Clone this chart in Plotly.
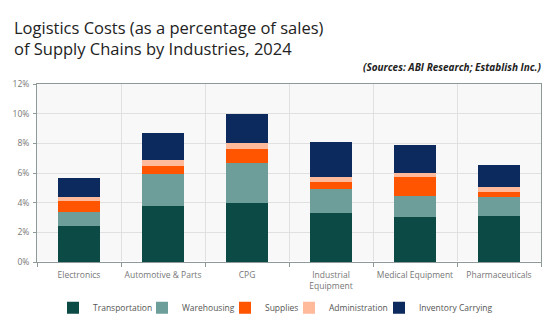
import plotly.graph_objects as go

categories = ["Electronics", "Automotive & Parts", "CPG", "Industrial<br>Equipment",
              "Medical Equipment", "Pharmaceuticals"]
series_names = ["Transportation", "Warehousing", "Supplies", "Administration", "Inventory Carrying"]
transportation = [2.4, 3.75, 3.95, 3.3, 3.05, 3.1]
warehousing = [1.0, 2.2, 2.7, 1.6, 1.4, 1.3]
supplies = [0.7, 0.5, 1.0, 0.5, 1.25, 0.35]
administration = [0.25, 0.4, 0.4, 0.3, 0.3, 0.3]
inventory_carrying = [1.3, 1.85, 1.9, 2.4, 1.9, 1.5]

values = [transportation, warehousing, supplies, administration, inventory_carrying]
colors = ["#0c4a46", "#6e9e9a", "#ff5500", "#ffb99b", "#0d2a5e"]

# legend text start positions (px) for each series' own legend
L, W, T, H = 37, 504, 84, 183
legend_text_px = [93, 182, 265, 329, 419]
legend_y = (267 - 314) / H

font = "Open Sans"
fig = go.Figure()
layout_legends = {}
for i, (name, vals, col) in enumerate(zip(series_names, values, colors)):
    lg = "legend" if i == 0 else f"legend{i+1}"
    fig.add_trace(go.Bar(x=categories, y=vals, name=name, marker_color=col,
                         marker_line_width=0, width=0.5, legend=lg))
    layout_legends[lg] = dict(
        x=(legend_text_px[i] - 40 - L) / W, xanchor="left",
        y=legend_y, yanchor="middle", orientation="h",
        bgcolor="rgba(0,0,0,0)", borderwidth=0,
        font=dict(family=font, size=8.5, color="#555"))

fig.update_layout(
    barmode="stack",
    width=550, height=331,
    margin=dict(l=L, r=550 - L - W, t=T, b=331 - T - H),
    paper_bgcolor="white",
    plot_bgcolor="#f8f8f8",
    font=dict(family=font, color="#666", size=9),
    showlegend=True,
    **layout_legends,
)
fig.add_annotation(text="Logistics Costs (as a percentage of sales)<br>of Supply Chains by Industries, 2024",
                   xref="paper", yref="paper", x=(12 - L) / W, y=1 + (T - 37) / H,
                   xanchor="left", yanchor="middle", align="left", showarrow=False,
                   font=dict(family=font, size=16.5, color="#222"))
fig.add_annotation(text="<b><i>(Sources: ABI Research; Establish Inc.)</i></b>",
                   xref="paper", yref="paper", x=1.0, y=1 + (T - 67) / H,
                   xanchor="right", yanchor="middle", xshift=2, showarrow=False,
                   font=dict(family=font, size=10, color="#222"))
fig.update_xaxes(automargin=False, tickson="boundaries", ticks="outside", ticklen=4,
                 tickcolor="#8e9a9a", tickangle=0, ticklabelstandoff=5, showgrid=True,
                 gridcolor="#e0e0e0", showline=True, linecolor="#8e9a9a", mirror=True,
                 tickfont=dict(size=8.5, color="#777"))
fig.update_yaxes(automargin=False, range=[0, 12], dtick=2, ticksuffix="%", showgrid=True,
                 gridcolor="#e0e0e0", showline=True, linecolor="#8e9a9a", mirror=True,
                 ticks="outside", ticklen=3, tickcolor="#8e9a9a", ticklabelstandoff=2,
                 tickfont=dict(size=8.5, color="#777"))
fig.write_html("out.html")
